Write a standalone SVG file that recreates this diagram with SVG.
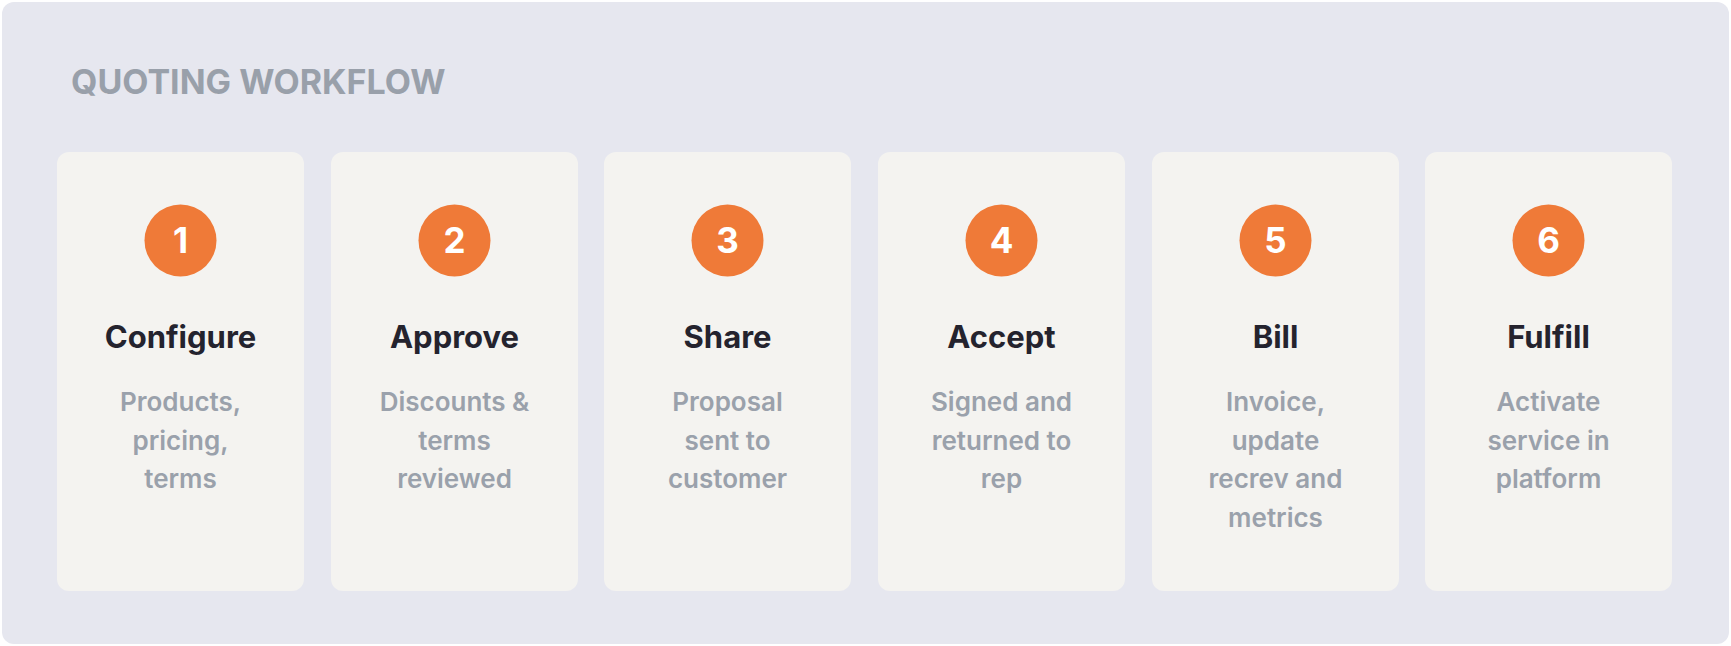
<svg xmlns="http://www.w3.org/2000/svg" width="1731" height="646" viewBox="0 0 1731 646">
<style>
.panel{fill:#E6E7EF}
.card{fill:#F4F3F0}
.badge{fill:#EF7A38}
.num{font-family:Inter,"Liberation Sans",sans-serif;font-weight:700;font-size:35px;fill:#FFFFFF;text-anchor:middle}
.title{font-family:Inter,"Liberation Sans",sans-serif;font-weight:700;font-size:31px;fill:#24232E;text-anchor:middle}
.desc{font-family:Inter,"Liberation Sans",sans-serif;font-weight:600;font-size:26px;fill:#9AA1AB;text-anchor:middle}
.head{font-family:Inter,"Liberation Sans",sans-serif;font-weight:700;font-size:34px;fill:#99A0AA}
</style>
<rect class="panel" x="2" y="2" width="1727" height="642" rx="12"/>
<text class="head" x="71" y="94">QUOTING WORKFLOW</text>
<g id="step1">
<rect class="card" x="57" y="152" width="247" height="439" rx="12"/>
<circle class="badge" cx="180.5" cy="240.5" r="36"/>
<text class="num" x="180.5" y="253">1</text>
<text class="title" x="180.5" y="348">Configure</text>
<text class="desc" x="180.5" y="411">Products,</text>
<text class="desc" x="180.5" y="449.5">pricing,</text>
<text class="desc" x="180.5" y="488">terms</text>
</g>
<g id="step2">
<rect class="card" x="331" y="152" width="247" height="439" rx="12"/>
<circle class="badge" cx="454.5" cy="240.5" r="36"/>
<text class="num" x="454.5" y="253">2</text>
<text class="title" x="454.5" y="348">Approve</text>
<text class="desc" x="454.5" y="411">Discounts &amp;</text>
<text class="desc" x="454.5" y="449.5">terms</text>
<text class="desc" x="454.5" y="488">reviewed</text>
</g>
<g id="step3">
<rect class="card" x="604" y="152" width="247" height="439" rx="12"/>
<circle class="badge" cx="727.5" cy="240.5" r="36"/>
<text class="num" x="727.5" y="253">3</text>
<text class="title" x="727.5" y="348">Share</text>
<text class="desc" x="727.5" y="411">Proposal</text>
<text class="desc" x="727.5" y="449.5">sent to</text>
<text class="desc" x="727.5" y="488">customer</text>
</g>
<g id="step4">
<rect class="card" x="878" y="152" width="247" height="439" rx="12"/>
<circle class="badge" cx="1001.5" cy="240.5" r="36"/>
<text class="num" x="1001.5" y="253">4</text>
<text class="title" x="1001.5" y="348">Accept</text>
<text class="desc" x="1001.5" y="411">Signed and</text>
<text class="desc" x="1001.5" y="449.5">returned to</text>
<text class="desc" x="1001.5" y="488">rep</text>
</g>
<g id="step5">
<rect class="card" x="1152" y="152" width="247" height="439" rx="12"/>
<circle class="badge" cx="1275.5" cy="240.5" r="36"/>
<text class="num" x="1275.5" y="253">5</text>
<text class="title" x="1275.5" y="348">Bill</text>
<text class="desc" x="1275.5" y="411">Invoice,</text>
<text class="desc" x="1275.5" y="449.5">update</text>
<text class="desc" x="1275.5" y="488">recrev and</text>
<text class="desc" x="1275.5" y="526.5">metrics</text>
</g>
<g id="step6">
<rect class="card" x="1425" y="152" width="247" height="439" rx="12"/>
<circle class="badge" cx="1548.5" cy="240.5" r="36"/>
<text class="num" x="1548.5" y="253">6</text>
<text class="title" x="1548.5" y="348">Fulfill</text>
<text class="desc" x="1548.5" y="411">Activate</text>
<text class="desc" x="1548.5" y="449.5">service in</text>
<text class="desc" x="1548.5" y="488">platform</text>
</g>
<g id="connectors"></g>
</svg>
